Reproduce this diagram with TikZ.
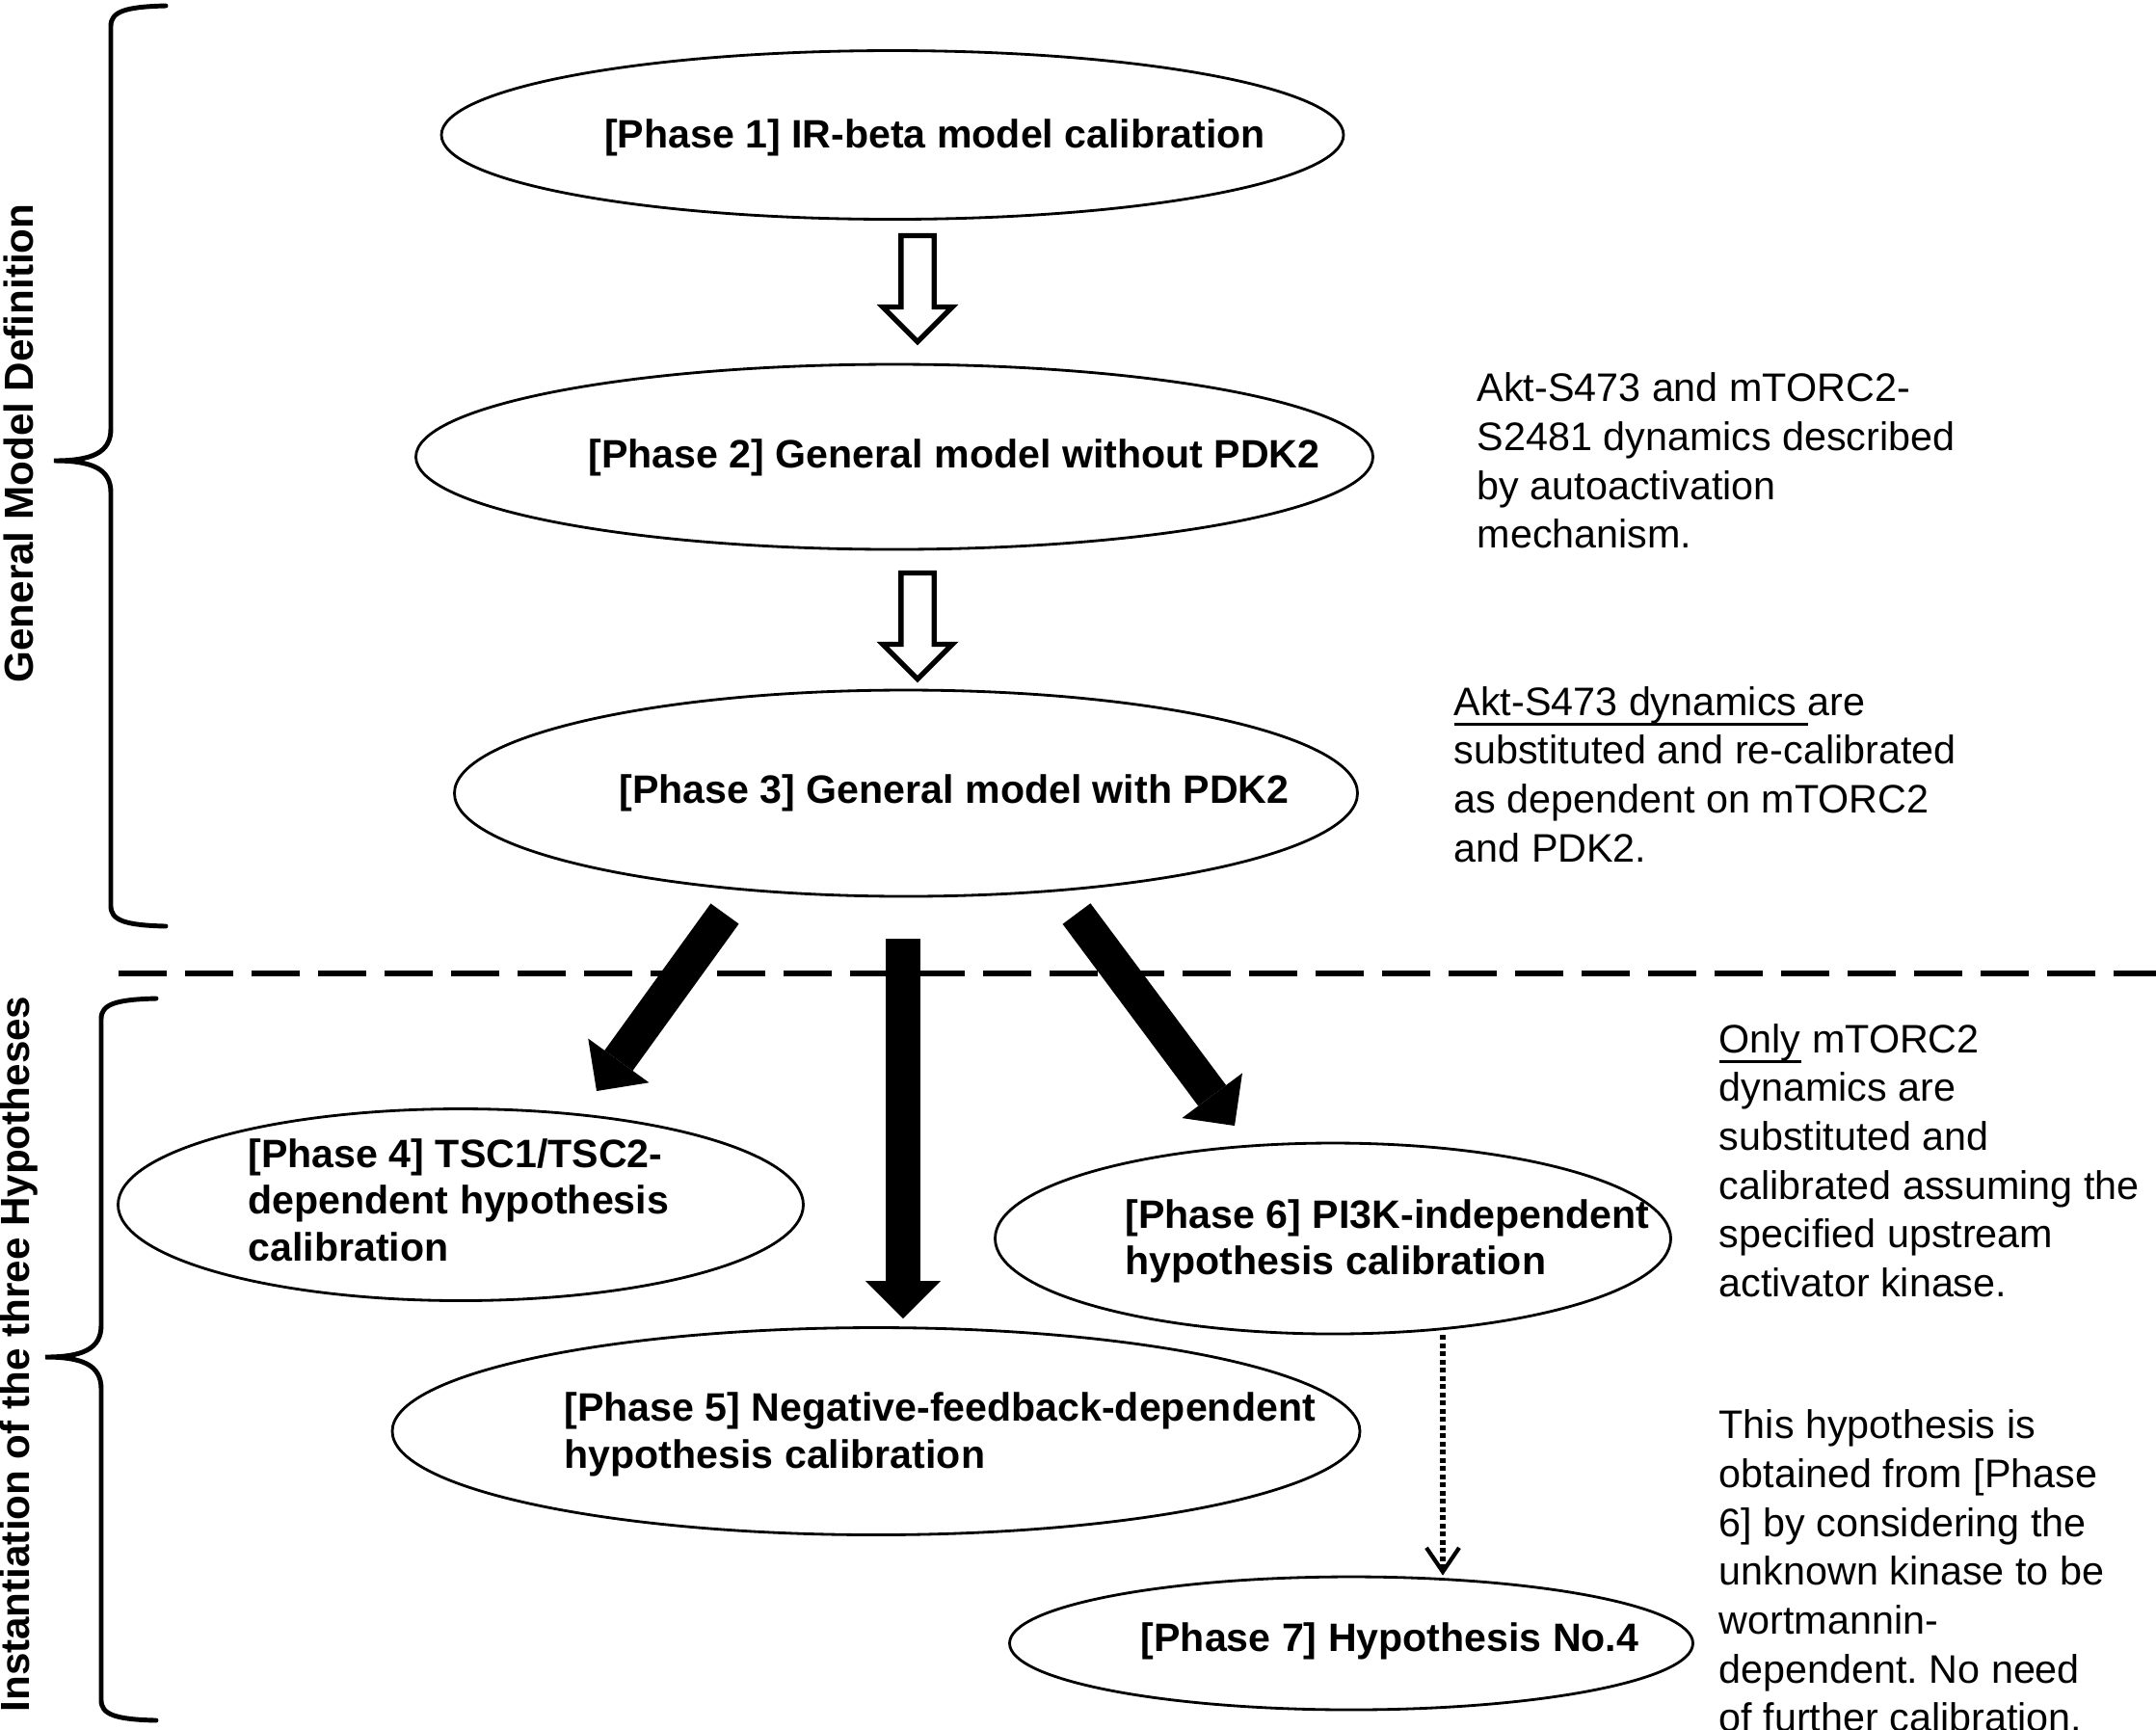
\documentclass[tikz,border=0pt]{standalone}
\usepackage{fontspec}
\setmainfont{Liberation Sans}
\usetikzlibrary{shapes.geometric,shapes.arrows,arrows.meta}
\newcommand{\ulinetext}[1]{\setbox0\hbox{#1}\rlap{\rule[-0.25em]{\wd0}{0.07em}}\box0\relax}
\frenchspacing

\begin{document}
\begin{tikzpicture}[
  phase node/.style={ellipse,draw,line width=0.8pt,inner sep=0pt},
  phase text/.style={font=\fontsize{11.7pt}{13.8pt}\selectfont\bfseries,inner sep=0pt,align=left},
  note text/.style={font=\fontsize{11.75pt}{14.4pt}\selectfont,inner sep=0pt,align=left,anchor=west},
  side label/.style={rotate=90,inner sep=0pt},
  hollow arrow/.style={single arrow,draw,line width=1.5pt,inner xsep=0pt,inner ysep=0.145cm,
    minimum height=1.10cm,single arrow head extend=0.19cm,rotate=-90},
  big arrow/.style={line width=0.36cm,-{Triangle[width=0.78cm,length=0.39cm,line width=0pt]}},
  brace line/.style={line width=1.4pt,line cap=round},
  sep line/.style={line width=1.7pt,dash pattern=on 0.5cm off 0.19cm},
  dotted arrow/.style={line width=1.7pt,dash pattern=on 0.05cm off 0.035cm,
    -{Straight Barb[length=0.25cm,width=0.34cm,line width=1.2pt]}}
]
  \fill[white] (0,0) rectangle (22.37,-17.94);
  \useasboundingbox (0,0) rectangle (22.37,-17.94);

  % phases
  \node[phase node,minimum width=9.36cm,minimum height=1.75cm] (p1) at (9.26,-1.40) {};
  \node[phase node,minimum width=9.93cm,minimum height=1.92cm] (p2) at (9.28,-4.74) {};
  \node[phase node,minimum width=9.37cm,minimum height=2.14cm] (p3) at (9.40,-8.23) {};
  \node[phase node,minimum width=7.11cm,minimum height=1.99cm] (p4) at (4.78,-12.50) {};
  \node[phase node,minimum width=10.04cm,minimum height=2.15cm] (p5) at (9.09,-14.85) {};
  \node[phase node,minimum width=7.01cm,minimum height=1.98cm] (p6) at (13.83,-12.85) {};
  \node[phase node,minimum width=7.09cm,minimum height=1.38cm] (p7) at (14.02,-17.05) {};

  \node[phase text] (t1) at (9.70,-1.43) {[Phase 1] IR-beta model calibration};
  \node[phase text] (t2) at (9.90,-4.75) {[Phase 2] General model without PDK2};
  \node[phase text] (t3) at (9.90,-8.23) {[Phase 3] General model with PDK2};
  \node[phase text,anchor=west] (t4) at (2.57,-12.45) {[Phase 4] TSC1/TSC2-\\dependent hypothesis\\calibration};
  \node[phase text,anchor=west] (t5) at (5.85,-14.885) {[Phase 5] Negative-feedback-dependent\\hypothesis calibration};
  \node[phase text,anchor=west] (t6) at (11.67,-12.88) {[Phase 6] PI3K-independent\\hypothesis calibration};
  \node[phase text] (t7) at (14.42,-17.03) {[Phase 7] Hypothesis No.4};

  % notes on the right
  \node[note text] (na) at (15.32,-4.78) {Akt-S473 and mTORC2-\\S2481 dynamics described\\by autoactivation\\mechanism.};
  \node[note text] (nb) at (15.08,-8.035) {\ulinetext{Akt-S473 dynamics\ }are\\substituted and re-calibrated\\as dependent on mTORC2\\and PDK2.};
  \node[note text] (nc) at (17.83,-12.04) {\ulinetext{Only} mTORC2\\dynamics are\\substituted and\\calibrated assuming the\\specified upstream\\activator kinase.};
  \node[note text] (nd) at (17.83,-16.30) {This hypothesis is\\obtained from [Phase\\6] by considering the\\unknown kinase to be\\wortmannin-\\dependent. No need\\of further calibration.};

  % side labels and braces
  \node[side label,font=\fontsize{12pt}{14pt}\selectfont\bfseries] (general) at (0.19,-4.60) {General Model Definition};
  \node[side label,font=\fontsize{12pt}{14pt}\selectfont\bfseries] (inst) at (0.20,-14.05) {Instantiation of the three Hypotheses};

  \draw[brace line] (1.72,-0.06) .. controls (1.30,-0.07) and (1.15,-0.12) .. (1.15,-0.27)
    -- (1.15,-4.45) .. controls (1.15,-4.70) and (0.95,-4.78) .. (0.56,-4.78)
    .. controls (0.95,-4.78) and (1.15,-4.86) .. (1.15,-5.11)
    -- (1.15,-9.40) .. controls (1.15,-9.55) and (1.30,-9.60) .. (1.72,-9.61);
  \draw[brace line] (1.62,-10.36) .. controls (1.20,-10.37) and (1.05,-10.42) .. (1.05,-10.57)
    -- (1.05,-13.75) .. controls (1.05,-14.00) and (0.85,-14.08) .. (0.47,-14.08)
    .. controls (0.85,-14.08) and (1.05,-14.16) .. (1.05,-14.41)
    -- (1.05,-17.64) .. controls (1.05,-17.79) and (1.20,-17.84) .. (1.62,-17.85);

  \draw[sep line] (1.23,-10.10) -- (22.37,-10.10);

  % connectors
  \node[hollow arrow] (h1) at (9.52,-2.91) {};
  \node[hollow arrow] (h2) at (9.52,-6.41) {};

  \coordinate (a4) at (7.52,-9.48);
  \coordinate (b4) at (6.19,-11.32);
  \coordinate (a5) at (9.37,-9.74);
  \coordinate (b5) at (9.37,-13.68);
  \coordinate (a6) at (11.17,-9.48);
  \coordinate (b6) at (12.81,-11.68);
  \draw[big arrow] (a4) -- (b4);
  \draw[big arrow] (a5) -- (b5);
  \draw[big arrow] (a6) -- (b6);

  \draw[dotted arrow] (p6.south -| 14.97,0) -- (p7.north -| 14.97,0);

\end{tikzpicture}
\end{document}
